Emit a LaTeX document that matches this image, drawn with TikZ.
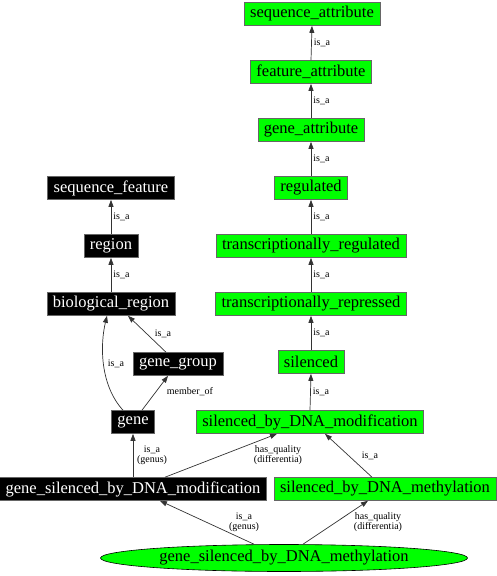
\documentclass[tikz,border=0pt]{standalone}
\usepackage{fontspec}
\setmainfont{Liberation Serif}
\usetikzlibrary{arrows.meta,shapes.geometric}
\definecolor{lime}{RGB}{0,255,0}
\begin{document}
\begin{tikzpicture}[x=1pt,y=-1pt,
  box/.style={draw=black!60,line width=0.6pt,inner xsep=6pt,inner ysep=0pt,minimum height=23pt,font=\fontsize{16.5}{18}\selectfont},
  bk/.style={box,fill=black,text=white},
  gr/.style={box,fill=lime,text=black},
  ell/.style={ellipse,draw=black,line width=0.6pt,fill=lime,inner sep=0pt,minimum width=367pt,minimum height=27pt,font=\fontsize{16.5}{18}\selectfont},
  lbl/.style={font=\fontsize{10}{10}\selectfont,inner sep=1pt,align=center},
  arr/.style={draw=black!80,line width=0.7pt,-{Triangle[length=7pt,width=5pt]}}]
\useasboundingbox (0,0) rectangle (496,576);
% right column
\node[gr] (sa) at (312,14) {sequence\_attribute};
\node[gr] (fa) at (311,72) {feature\_attribute};
\node[gr] (ga) at (311,130) {gene\_attribute};
\node[gr] (reg) at (311,188) {regulated};
\node[gr] (treg) at (311,246) {transcriptionally\_regulated};
\node[gr] (trep) at (311,304) {transcriptionally\_repressed};
\node[gr] (sil) at (311,362) {silenced};
\node[gr] (sdmod) at (310,422) {silenced\_by\_DNA\_modification};
\node[gr] (sdmet) at (385,489) {silenced\_by\_DNA\_methylation};
% left column
\node[bk] (sf) at (111,188) {sequence\_feature};
\node[bk] (region) at (111,246) {region};
\node[bk] (br) at (111,304) {biological\_region};
\node[bk] (gg) at (178,364) {gene\_group};
\node[bk] (gene) at (133,422) {gene};
\node[bk] (gsmod) at (133,489) {gene\_silenced\_by\_DNA\_modification};
\node[ell] (gsmet) at (284,558) {gene\_silenced\_by\_DNA\_methylation};
% vertical is_a edges
\foreach \a/\b in {fa/sa,ga/fa,reg/ga,treg/reg,trep/treg,sil/trep,sdmod/sil}{
  \draw[arr] (\a.north) -- (\b.south) node[midway,right,lbl,xshift=1pt] {is\_a};
}
\draw[arr] (region.north) -- (sf.south) node[midway,right,lbl,xshift=1pt] {is\_a};
\draw[arr] (br.north) -- (region.south) node[midway,right,lbl,xshift=1pt] {is\_a};
% other edges
\draw[arr] ([xshift=-12pt]gg.north) -- ([xshift=17pt]br.south);
\node[lbl] (l1) at (163,334) {is\_a};
\draw[arr] ([xshift=-10pt]gene.north) .. controls (100,385) and (100,345) .. ([xshift=-4pt]br.south);
\node[lbl] (l2) at (116,364) {is\_a};
\draw[arr] ([xshift=9pt]gene.north) -- ([xshift=-10pt]gg.south);
\node[lbl] (l3) at (190,392) {member\_of};
\draw[arr] (gsmod.north) -- (gene.south);
\node[lbl] (l4) at (152,455) {is\_a\\(genus)};
\draw[arr] ([xshift=32pt]gsmod.north) -- ([xshift=-33pt]sdmod.south);
\node[lbl] (l5) at (278,455) {has\_quality\\(differentia)};
\draw[arr] ([xshift=-13pt]sdmet.north) -- ([xshift=15pt]sdmod.south);
\node[lbl] (l6) at (370,456) {is\_a};
\draw[arr] ([xshift=-30pt]gsmet.north) -- ([xshift=27pt]gsmod.south);
\node[lbl] (l7) at (244,522) {is\_a\\(genus)};
\draw[arr] ([xshift=19pt]gsmet.north) -- ([xshift=-17pt]sdmet.south);
\node[lbl] (l8) at (378,522) {has\_quality\\(differentia)};
\end{tikzpicture}
\end{document}
